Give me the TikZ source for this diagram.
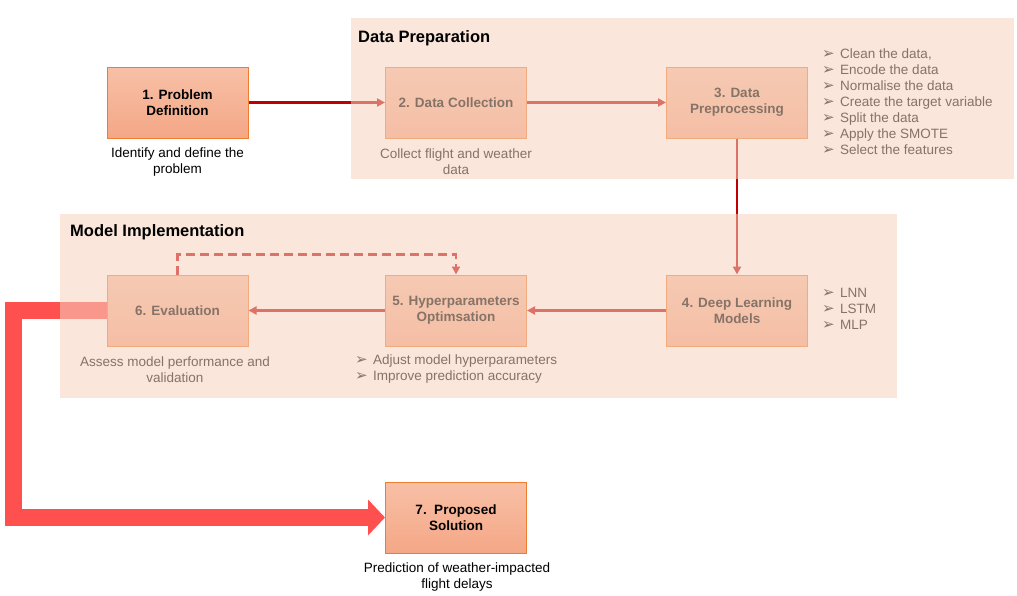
\documentclass[tikz,border=0pt]{standalone}
\usepackage{fontspec}
\setmainfont{Liberation Sans}
\newfontfamily\symfont{DejaVu Sans}
\usetikzlibrary{arrows.meta, positioning}
\definecolor{boxtop}{RGB}{248, 192, 166}
\definecolor{boxbot}{RGB}{244, 167, 134}
\definecolor{boxline}{RGB}{237, 125, 49}
\definecolor{flowred}{RGB}{192, 0, 0}
\definecolor{bigred}{RGB}{255, 80, 80}
\definecolor{regionpeach}{RGB}{245, 210, 190}
\newcommand{\bul}{\makebox[18pt][l]{\symfont\fontsize{15}{16}\selectfont ➢}}

\begin{document}
\begin{tikzpicture}[x=1pt, y=-1pt,
  font=\fontsize{13.5}{16}\selectfont,
  stepbox/.style={draw=boxline, line width=1pt, top color=boxtop, bottom color=boxbot,
    minimum width=141pt, minimum height=71pt, align=center, inner sep=2pt,
    font=\fontsize{13.5}{16}\selectfont\bfseries},
  note/.style={align=center},
  bullets/.style={anchor=west, align=left, inner sep=0pt},
  flow/.style={draw=flowred, line width=2.6pt, -{Triangle[length=8pt, width=8pt]}},
  region/.style={fill=regionpeach, fill opacity=0.55},
  title/.style={anchor=west, inner sep=0pt, font=\fontsize{16.5}{19}\selectfont\bfseries}]
  \useasboundingbox (0,0) rectangle (1017,595);

  % Steps
  \node[stepbox] (prob) at (177.5,102.5) {1. Problem\\Definition};
  \node[stepbox] (collect) at (456,102.5) {2. Data Collection};
  \node[stepbox] (prep) at (737,102.5) {3. Data\\Preprocessing};
  \node[stepbox] (deep) at (737,310.5) {4. Deep Learning\\Models};
  \node[stepbox] (hyper) at (456,310.5) {5. Hyperparameters\\Optimsation};
  \node[stepbox] (eval) at (177.5,310.5) {6. Evaluation};
  \node[stepbox] (sol) at (456,517.5) {7.\ \ Proposed\\Solution};

  % Notes under the steps
  \node[note] (probnote) at (177.5,162) {Identify and define the\\problem};
  \node[note] (collnote) at (456,162) {Collect flight and weather\\data};
  \node[note] (evalnote) at (175,370) {Assess model performance and\\validation};
  \node[note] (solnote) at (457,577) {Prediction of weather-impacted\\flight delays};

  % Bullet lists
  \node[bullets] (preplist) at (822,102) {\bul Clean the data,\\ \bul Encode the data\\
    \bul Normalise the data\\ \bul Create the target variable\\ \bul Split the data\\
    \bul Apply the SMOTE\\ \bul Select the features};
  \node[bullets] (deeplist) at (822,309) {\bul LNN\\ \bul LSTM\\ \bul MLP};
  \node[bullets] (hyperlist) at (355,369) {\bul Adjust model hyperparameters\\ \bul Improve prediction accuracy};

  % Flow
  \draw[flow] (prob) -- (collect);
  \draw[flow] (collect) -- (prep);
  \draw[flow] (prep) -- (deep);
  \draw[flow] (deep) -- (hyper);
  \draw[flow] (hyper) -- (eval);
  \draw[flow, dash pattern=on 9pt off 5pt] (eval.north) -- ++(0,-20) -| (hyper.north);

  % Big arrow to the solution
  \draw[draw=bigred, line width=17pt, -{Triangle[length=17pt, width=35pt]}]
    (eval.west) -- (13.5,310.5) |- (sol.west);

  % Stage regions
  \fill[region] (351,18) rectangle (1014,179);
  \fill[region] (60,214) rectangle (897,398);
  \node[title] (preptitle) at (358,38) {Data Preparation};
  \node[title] (impltitle) at (70,232) {Model Implementation};
\end{tikzpicture}
\end{document}
